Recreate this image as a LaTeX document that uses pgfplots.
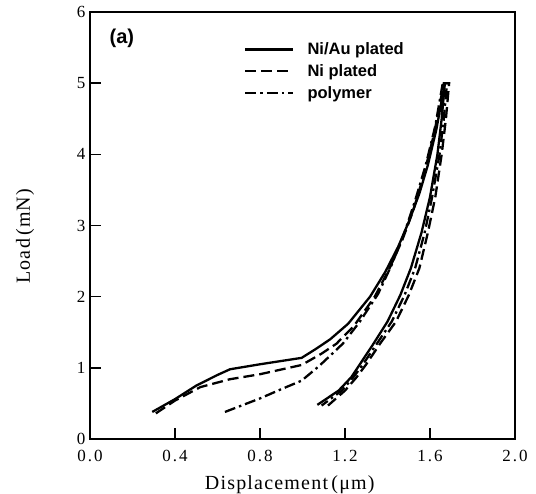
\documentclass[border=0pt]{standalone}
\usepackage{fontspec}
\setmainfont{Liberation Serif}
\setsansfont{Liberation Sans}
\newfontfamily\tickfont[LetterSpace=12]{Liberation Serif}
\newfontfamily\labfont[LetterSpace=6]{Liberation Serif}
\usepackage{pgfplots}
\pgfplotsset{compat=1.18}
\begin{document}
\begin{tikzpicture}
\begin{axis}[
  scale only axis, width=425pt, height=427pt,
  xmin=0, xmax=2, ymin=0, ymax=6,
  xtick={0,0.4,0.8,1.2,1.6,2.0},
  ytick={0,1,2,3,4,5,6},
  xticklabel style={yshift=-8pt, /pgf/number format/.cd, fixed, fixed zerofill, precision=1},
  /pgf/number format/assume math mode=true,
  ticklabel style={font=\tickfont\fontsize{17}{19}\selectfont},
  yticklabel style={xshift=-1pt},
  tick align=inside, xtick pos=bottom, ytick pos=left,
  major tick length=11pt,
  axis line style={line width=1.6pt},
  tick style={line width=1.6pt, black},
  xlabel={Displacement\,(μm)}, ylabel={Load\,(mN)},
  label style={font=\labfont\fontsize{20}{22}\selectfont},
  xlabel style={at={(axis description cs:0.47,-0.108)}, anchor=center},
  ylabel style={at={(axis description cs:-0.153,0.475)}, anchor=center},
  legend style={draw=none, fill=none, at={(axis cs:0.725,5.6)}, anchor=north west,
    font=\sffamily\bfseries\fontsize{16.5}{18}\selectfont, row sep=4.5pt,
    inner sep=0pt, /tikz/every odd column/.append style={column sep=11pt}},
  legend cell align=left,
  legend image code/.code={\draw[#1] (0pt,0pt) -- (48pt,0pt);},
]
\addplot[black, line width=2.3pt] coordinates {
(0.293,0.38) (0.40,0.56) (0.50,0.75) (0.60,0.90) (0.659,0.98) (0.80,1.05) (0.996,1.14)
(1.06,1.26) (1.13,1.40) (1.215,1.62) (1.318,2.00) (1.39,2.35) (1.45,2.70) (1.50,3.05)
(1.55,3.45) (1.59,3.85) (1.63,4.35) (1.67,5.00)
(1.655,4.50) (1.635,4.00) (1.60,3.40) (1.56,2.90) (1.51,2.40) (1.46,2.02) (1.40,1.65)
(1.33,1.32) (1.27,1.05) (1.23,0.87) (1.17,0.68) (1.07,0.48)
};
\addlegendentry{Ni/Au plated}
\addplot[black, line width=2.3pt, dash pattern=on 11pt off 5pt] coordinates {
(0.31,0.36) (0.40,0.54) (0.52,0.73) (0.659,0.84) (0.80,0.91) (0.996,1.04) (1.09,1.20)
(1.16,1.34) (1.24,1.58) (1.34,2.00) (1.41,2.40) (1.47,2.80) (1.52,3.20) (1.57,3.70)
(1.62,4.30) (1.665,5.00) (1.69,5.00)
(1.675,4.50) (1.655,4.00) (1.625,3.40) (1.59,2.90) (1.55,2.40) (1.50,2.02) (1.44,1.65)
(1.365,1.34) (1.30,1.05) (1.255,0.87) (1.20,0.68) (1.12,0.47)
};
\addlegendentry{Ni plated}
\addplot[black, line width=2.3pt, dash pattern=on 11pt off 4pt on 2.5pt off 4pt] coordinates {
(0.635,0.38) (0.80,0.57) (0.90,0.70) (0.996,0.82) (1.08,1.03) (1.19,1.34) (1.27,1.65)
(1.356,2.04) (1.42,2.45) (1.48,2.90) (1.53,3.35) (1.58,3.85) (1.625,4.40) (1.66,5.00)
(1.68,5.00)
(1.665,4.50) (1.645,4.00) (1.61,3.40) (1.575,2.90) (1.53,2.40) (1.48,2.02) (1.42,1.65)
(1.35,1.34) (1.285,1.05) (1.24,0.87) (1.185,0.68) (1.09,0.47)
};
\addlegendentry{polymer}
\node[font=\sffamily\bfseries\fontsize{20}{22}\selectfont] at (axis cs:0.15,5.63) {(a)};
\end{axis}
\pgfresetboundingbox
\path ([shift={(-90pt,-55pt)}]current axis.south west) rectangle ([shift={(21pt,12pt)}]current axis.north east);
\end{tikzpicture}
\end{document}
